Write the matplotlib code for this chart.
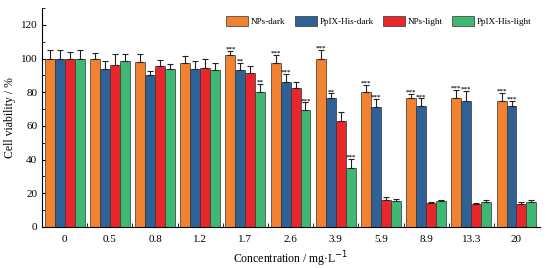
import numpy as np
import matplotlib.pyplot as plt

plt.rcParams['font.family'] = ['Liberation Serif', 'DejaVu Serif']

concs = ['0', '0.5', '0.8', '1.2', '1.7', '2.6', '3.9', '5.9', '8.9', '13.3', '20']
series = ['NPs-dark', 'PpIX-His-dark', 'NPs-light', 'PpIX-His-light']
colors = ['#F28130', '#2F6197', '#E8262B', '#3FB873']

nps_dark = [100, 99.5, 98, 97.5, 102, 97.3, 99.6, 80.4, 76.5, 76.3, 75]
ppix_dark = [100, 94, 90, 94, 93, 86.3, 76.8, 71.1, 71.9, 75, 71.9]
nps_light = [100, 96, 95.5, 94.5, 91.5, 82.8, 63, 16, 14, 13.8, 13.6]
ppix_light = [100, 98.5, 94, 93, 80, 69.5, 34.9, 15.4, 15.3, 15, 15]

nps_dark_err = [5, 4, 4.5, 4, 2.5, 5, 5.5, 4, 2.6, 5.1, 4.6]
ppix_dark_err = [5, 4.5, 2.5, 4.5, 4.5, 4.4, 2.6, 5.1, 4.4, 5.6, 3.2]
nps_light_err = [4, 7, 3.5, 5.5, 4, 3.5, 5.2, 2, 1, 0.5, 1]
ppix_light_err = [5, 4.5, 2.5, 4.5, 5, 4.5, 5.7, 1, 1, 1, 1]

nps_dark_sig = ['', '', '', '', '***', '***', '***', '***', '***', '***', '***']
ppix_dark_sig = ['', '', '', '', '**', '***', '**', '***', '***', '***', '***']
nps_light_sig = [''] * 11
ppix_light_sig = ['', '', '', '', '**', '***', '***', '', '', '', '']

values = [nps_dark, ppix_dark, nps_light, ppix_light]
errors = [nps_dark_err, ppix_dark_err, nps_light_err, ppix_light_err]
sigs = [nps_dark_sig, ppix_dark_sig, nps_light_sig, ppix_light_sig]

fig = plt.figure(figsize=(5.46, 2.68), dpi=100)
ax = fig.add_axes([0.077, 0.153, 0.912, 0.817])

x = np.arange(len(concs))
w = 0.22
for i in range(4):
    pos = x + (i - 1.5) * w
    ax.bar(pos, values[i], w, color=colors[i], edgecolor='#333333', linewidth=0.5,
           label=series[i], zorder=2)
    ax.errorbar(pos, values[i], yerr=[np.zeros(len(concs)), errors[i]], fmt='none',
                ecolor='#222222', elinewidth=0.8, capsize=2.5, capthick=0.8, zorder=3)
    for p, v, e, s in zip(pos, values[i], errors[i], sigs[i]):
        if s:
            ax.text(p, v + e - 0.5, s, ha='center', va='bottom', fontsize=5,
                    fontweight='bold', color='#222222')

ax.set_xlim(-0.5, 10.52)
ax.set_ylim(0, 130)
ax.set_yticks(np.arange(0, 121, 20))
ax.set_yticks(np.arange(0, 131, 10), minor=True)
ax.set_xticks(x)
ax.set_xticklabels(concs)
ax.set_xticks(x[:-1] + 0.5, minor=True)
ax.tick_params(axis='x', which='major', length=0, labelsize=8, pad=6)
ax.tick_params(axis='x', which='minor', direction='in', length=3)
ax.tick_params(axis='y', which='major', direction='in', length=3, labelsize=8)
ax.tick_params(axis='y', which='minor', direction='in', length=2)
ax.spines['top'].set_visible(False)
ax.spines['right'].set_visible(False)

ax.set_ylabel('Cell viability / %', fontsize=8.5, labelpad=3)
ax.set_xlabel('Concentration / mg·L$^{-1}$', fontsize=8.5, labelpad=4)

ax.legend(loc='upper right', ncol=4, frameon=False, fontsize=6.6,
          bbox_to_anchor=(1.0, 1.0), handlelength=2.4, handleheight=1.3,
          columnspacing=1.0, handletextpad=0.3)

fig.savefig('out.png', dpi=100)
